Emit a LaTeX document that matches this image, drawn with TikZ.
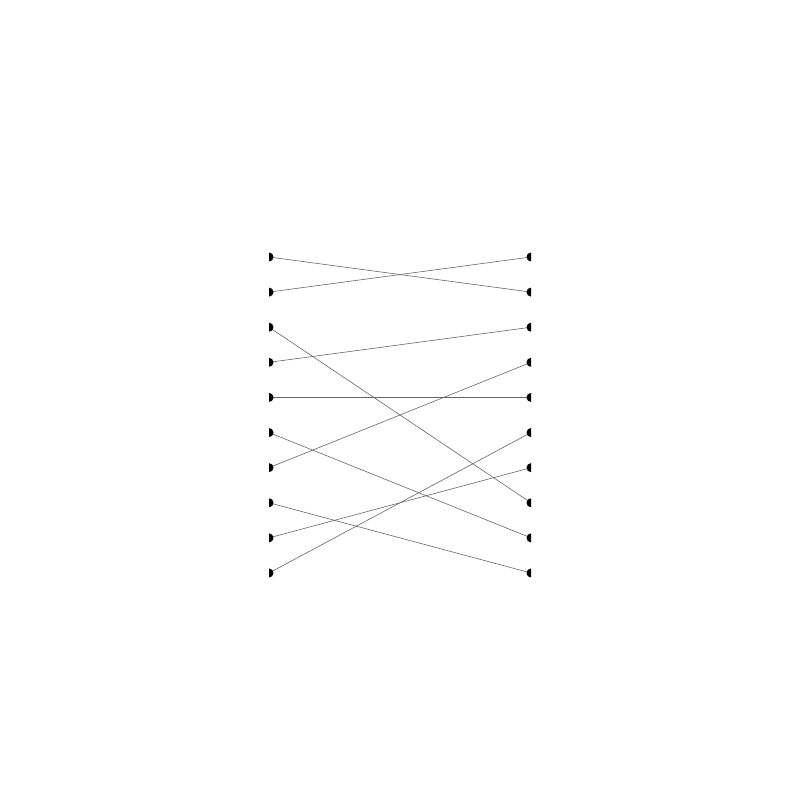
\documentclass[tikz,border=0pt]{standalone}
\begin{document}
\begin{tikzpicture}[x=1pt,y=1pt,
  wire/.style={draw=black!60,line width=0.6pt}]
\useasboundingbox (0,0) rectangle (800,800);
\foreach \i in {1,...,10}{
  \pgfmathsetmacro{\yy}{543-35.111*(\i-1)}
  \coordinate (L\i) at (269,\yy);
  \coordinate (R\i) at (531,\yy);
}
\foreach \a/\b in {1/2,2/1,3/8,4/3,5/5,6/9,7/4,8/10,9/7,10/6}{
  \draw[wire] (L\a) -- (R\b);
}
\foreach \i in {1,...,10}{
  \fill (L\i) ++(0,4.5) arc[start angle=90,end angle=-90,radius=4.5] -- cycle;
  \fill (R\i) ++(0,4.5) arc[start angle=90,end angle=270,radius=4.5] -- cycle;
}
\end{tikzpicture}
\end{document}
